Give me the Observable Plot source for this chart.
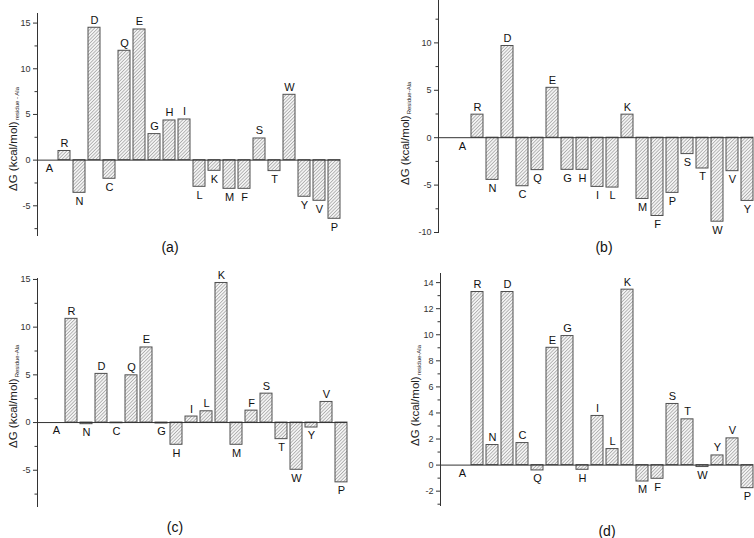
<!DOCTYPE html>
<html>
<head>
<meta charset="utf-8">
<script src="https://cdn.jsdelivr.net/npm/d3@7"></script>
<script src="https://cdn.jsdelivr.net/npm/@observablehq/plot@0.6"></script>
<style>
  body { margin: 0; background: #fff; }
  #root { position: relative; width: 754px; height: 538px; background: #fff; font-family: "Liberation Sans", Arial, sans-serif; }
  #root svg.panel { position: absolute; overflow: visible; }
</style>
</head>
<body>
<svg width="0" height="0" style="position:absolute">
  <defs>
    <pattern id="hatch" patternUnits="userSpaceOnUse" width="2.4" height="2.4" patternTransform="rotate(45)">
      <rect width="2.4" height="2.4" fill="#f3f3f3"></rect>
      <line x1="0.4" y1="0" x2="0.4" y2="2.4" stroke="#a6a6a6" stroke-width="0.75"></line>
    </pattern>
  </defs>
</svg>
<div id="root"></div>
<script>
// ---- data ----
const residuesA = ["A","R","N","D","C","Q","E","G","H","I","L","K","M","F","S","T","W","Y","V","P"];
const valuesA = [0, 1.0, -3.58, 14.49, -2.04, 11.97, 14.3, 2.85, 4.34, 4.45, -2.92, -1.17, -3.14, -3.14, 2.37, -1.2, 7.15, -4.01, -4.45, -6.42];

const residuesB = ["A","R","N","D","C","Q","E","G","H","I","L","K","M","F","P","S","T","W","V","Y"];
const valuesB = [0, 2.43, -4.45, 9.67, -5.12, -3.42, 5.26, -3.39, -3.39, -5.19, -5.26, 2.43, -6.46, -8.26, -5.82, -1.73, -3.25, -8.86, -3.53, -6.67];

const residuesC = ["A","R","N","D","C","Q","E","G","H","I","L","K","M","F","S","T","W","Y","V","P"];
const valuesC = [0, 10.87, -0.17, 5.1, -0.07, 4.95, 7.87, -0.1, -2.33, 0.63, 1.18, 14.63, -2.33, 1.25, 3.03, -1.74, -4.95, -0.52, 2.16, -6.27];

const residuesD = ["A","R","N","D","C","Q","E","G","H","I","L","K","M","F","S","T","W","Y","V","P"];
const valuesD = [0, 13.28, 1.54, 13.28, 1.69, -0.41, 9.0, 9.9, -0.36, 3.77, 1.23, 13.46, -1.26, -1.05, 4.69, 3.51, -0.15, 0.74, 2.05, -1.77];

const ticksA = [-5, 0, 5, 10, 15];
const minorA = [-7.5, -2.5, 2.5, 7.5, 12.5];
const ticksB = [-10, -5, 0, 5, 10];
const minorB = [-7.5, -2.5, 2.5, 7.5, 12.5];
const ticksC = [-5, 0, 5, 10, 15];
const minorC = [-7.5, -2.5, 2.5, 7.5, 12.5];
const ticksD = [-2, 0, 2, 4, 6, 8, 10, 12, 14];
const minorD = [-3, -1, 1, 3, 5, 7, 9, 11, 13];

const panelLabels = ["(a)", "(b)", "(c)", "(d)"];
const titleMain = "ΔG (kcal/mol)";
const titleSubs = ["residue - Ala", "Residue-Ala", "Residue-Ala", "residue-Ala"];

// ---- layout ----
const panels = [
  {residues: residuesA, values: valuesA, ticks: ticksA, minor: minorA, domain: [-8.25, 16.05],
   left: 0, top: 0, mL: 37, mR: 37, mT: 13, mB: 35, po: 0.0425,
   title: [12.5, 191], label: [170, 247]},
  {residues: residuesB, values: valuesB, ticks: ticksB, minor: minorB, domain: [-10, 14.47],
   left: 377, top: 0, mL: 61, mR: 1, mT: 0, mB: 38, po: 0.0125,
   title: [28, 185], label: [227, 247]},
  {residues: residuesC, values: valuesC, ticks: ticksC, minor: minorC, domain: [-8.8, 15.1],
   left: 0, top: 268, mL: 37, mR: 30, mT: 10, mB: 32, po: 0.0425,
   title: [13, 180], label: [175, 259]},
  {residues: residuesD, values: valuesD, ticks: ticksD, minor: minorD, domain: [-3.1, 14.7],
   left: 377, top: 268, mL: 63, mR: 1, mT: 5, mB: 33, po: 0.0075,
   title: [38, 178], label: [230, 263]}
];

const root = document.getElementById("root");

panels.forEach((p, i) => {
  const data = p.residues.map((r, k) => ({r, v: p.values[k]}));
  const chart = Plot.plot({
    width: 377,
    height: 270,
    marginLeft: p.mL,
    marginRight: p.mR,
    marginTop: p.mT,
    marginBottom: p.mB,
    style: {fontFamily: "'Liberation Sans', Arial, sans-serif", background: "transparent", overflow: "visible"},
    x: {type: "band", domain: p.residues, paddingInner: 0.17, paddingOuter: p.po, align: 1, axis: null},
    y: {domain: p.domain},
    marks: [
      Plot.barY(data, {x: "r", y1: 0, y2: "v", fill: "url(#hatch)", stroke: "#505050", strokeWidth: 1}),
      Plot.ruleY([0], {stroke: "#333", strokeWidth: 1}),
      Plot.frame({anchor: "left", stroke: "#333", strokeWidth: 1}),
      Plot.axisY({ticks: p.ticks, tickSize: 4, tickPadding: 3, fontSize: 9, stroke: "#333", fill: "#333", label: null, tickFormat: d => String(d)}),
      Plot.axisY({ticks: p.minor, tickSize: 2.5, stroke: "#333", label: null, tickFormat: () => ""}),
      Plot.text(data.filter(d => d.v > 0), {x: "r", y: "v", text: "r", lineAnchor: "bottom", dy: -4, fontSize: 11, fill: "#111"}),
      Plot.text(data.filter(d => d.v <= 0), {x: "r", y: "v", text: "r", lineAnchor: "top", dy: 4, fontSize: 11, fill: "#111"})
    ]
  });
  chart.classList.add("panel");
  chart.style.left = p.left + "px";
  chart.style.top = p.top + "px";
  const svg = d3.select(chart);
  const t = svg.append("text")
    .attr("transform", `translate(${p.title[0]},${p.title[1]}) rotate(-90)`)
    .attr("text-anchor", "start")
    .attr("dominant-baseline", "central")
    .attr("fill", "#222")
    .style("font-family", "'Liberation Sans', Arial, sans-serif");
  t.append("tspan").attr("font-size", 11.5).text(titleMain);
  t.append("tspan").attr("font-size", 6).attr("dy", 4).attr("dx", 1).text(titleSubs[i]);
  svg.append("text")
    .attr("x", p.label[0])
    .attr("y", p.label[1])
    .attr("text-anchor", "middle")
    .attr("dominant-baseline", "central")
    .attr("font-size", 14)
    .attr("fill", "#111")
    .style("font-family", "'Liberation Sans', Arial, sans-serif")
    .text(panelLabels[i]);
  root.appendChild(chart);
});
</script>
</body>
</html>
